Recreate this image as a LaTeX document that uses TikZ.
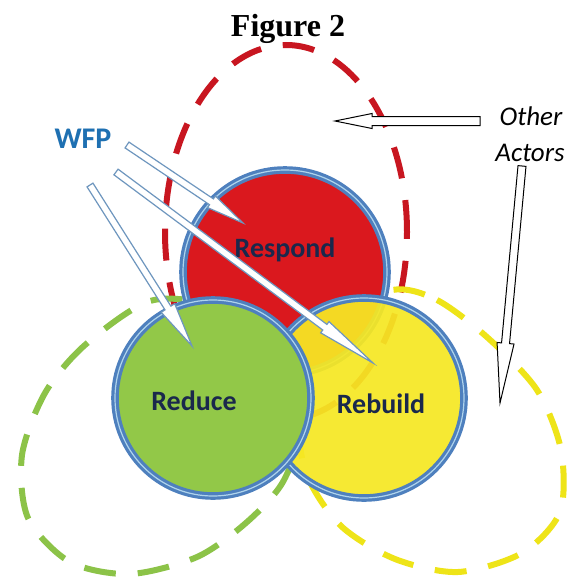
\documentclass[tikz,border=0pt]{standalone}
\usepackage{fontspec}
\setmainfont{Liberation Serif}
\newfontfamily\labelfont{Carlito}
\usetikzlibrary{calc}
\definecolor{loopred}{RGB}{200,22,32}
\definecolor{loopgreen}{RGB}{140,195,72}
\definecolor{loopyellow}{RGB}{238,228,24}
\definecolor{respondred}{RGB}{218,24,30}
\definecolor{reducegreen}{RGB}{146,200,72}
\definecolor{rebuildyellow}{RGB}{246,232,36}
\definecolor{rimblue}{RGB}{78,128,190}
\definecolor{rimlight}{RGB}{175,212,236}
\definecolor{wfpblue}{RGB}{30,112,178}
\definecolor{wfpline}{RGB}{110,150,190}
\definecolor{phasetext}{RGB}{26,40,76}
\tikzset{
  actorloop/.style={line width=6pt, dash pattern=on 32pt off 22pt},
  phasecircle/.style={circle, inner sep=0pt, draw=rimblue, line width=3.2pt,
    double=rimlight, double distance=1.2pt},
  phaselabel/.style={anchor=base, text=phasetext, font=\labelfont\bfseries\fontsize{28}{32}\selectfont},
  titlelabel/.style={anchor=base, font=\bfseries\fontsize{32}{38}\selectfont},
  wfplabel/.style={anchor=base, text=wfpblue, font=\labelfont\bfseries\fontsize{30}{36}\selectfont},
  actorlabel/.style={anchor=base, font=\labelfont\itshape\fontsize{27}{32}\selectfont},
  wfparrow/.style={draw=wfpline, fill=white, line width=1.2pt},
  actorarrow/.style={draw=black, fill=white, line width=1pt},
}
% hollow arrow: style, tail, tip, shaft half width, head half width, head length
\newcommand{\hollowarrow}[6]{%
  \coordinate (hb) at ($(#3)!#6!(#2)$);
  \filldraw[#1] ($(#2)!#4!90:(#3)$) -- ($(hb)!#4!90:(#3)$) -- ($(hb)!#5!90:(#3)$) -- (#3)
    -- ($(hb)!#5!-90:(#3)$) -- ($(hb)!#4!-90:(#3)$) -- ($(#2)!#4!-90:(#3)$) -- cycle;
}
\begin{document}
\begin{tikzpicture}[x=1pt,y=-1pt]
  \useasboundingbox[fill=white] (0,0) rectangle (572,578);
  \node[titlelabel] (title) at (288,37) {Figure 2};

  % loops of the other actors
  \draw[actorloop, loopred] (286,232) ellipse [x radius=121pt, y radius=187pt];
  \draw[actorloop, loopgreen] plot[smooth cycle] coordinates {(150,301) (85,345) (45,393)
    (22,455) (28,518) (70,562) (130,574) (197,557) (247,522) (284,480) (300,420) (270,330) (215,305)};
  \draw[actorloop, loopyellow] plot[smooth cycle] coordinates {(392,290) (437,300) (488,338)
    (537,390) (561,450) (560,512) (522,553) (458,572) (395,559) (340,525) (305,470) (300,400) (330,320)};

  % the three phases
  \node[phasecircle, fill=respondred, minimum size=204pt] (respond) at (285,272) {};
  \node[phasecircle, fill=rebuildyellow, fill opacity=.93, minimum size=200pt] (rebuild) at (364,398) {};
  \node[phasecircle, fill=reducegreen, minimum size=196pt] (reduce) at (213,398) {};
  \node[phaselabel] (respond-text) at (285,257) {Respond};
  \node[phaselabel] (reduce-text) at (194,410) {Reduce};
  \node[phaselabel] (rebuild-text) at (381,413) {Rebuild};

  % actors
  \node[wfplabel] (wfp) at (83,148) {WFP};
  \node[actorlabel] (other) at (531,125) {Other};
  \node[actorlabel] (actors) at (530,161) {Actors};

  \coordinate (wfp-a) at (127,145);
  \coordinate (wfp-b) at (116,172);
  \coordinate (wfp-c) at (90,185);
  \coordinate (respond-tip) at (243,223);
  \coordinate (rebuild-tip) at (373,363);
  \coordinate (reduce-tip) at (192,346);
  \hollowarrow{wfparrow}{wfp-a}{respond-tip}{3.5pt}{7pt}{38pt}
  \hollowarrow{wfparrow}{wfp-b}{rebuild-tip}{3.5pt}{7pt}{60pt}
  \hollowarrow{wfparrow}{wfp-c}{reduce-tip}{3.5pt}{8pt}{45pt}

  \coordinate (other-tail) at (480,121);
  \coordinate (loop-tip) at (335,121);
  \coordinate (actors-tail) at (522,166);
  \coordinate (yellow-tip) at (500,403);
  \hollowarrow{actorarrow}{other-tail}{loop-tip}{4.5pt}{7.5pt}{37pt}
  \hollowarrow{actorarrow}{actors-tail}{yellow-tip}{4pt}{8.5pt}{60pt}
\end{tikzpicture}
\end{document}
